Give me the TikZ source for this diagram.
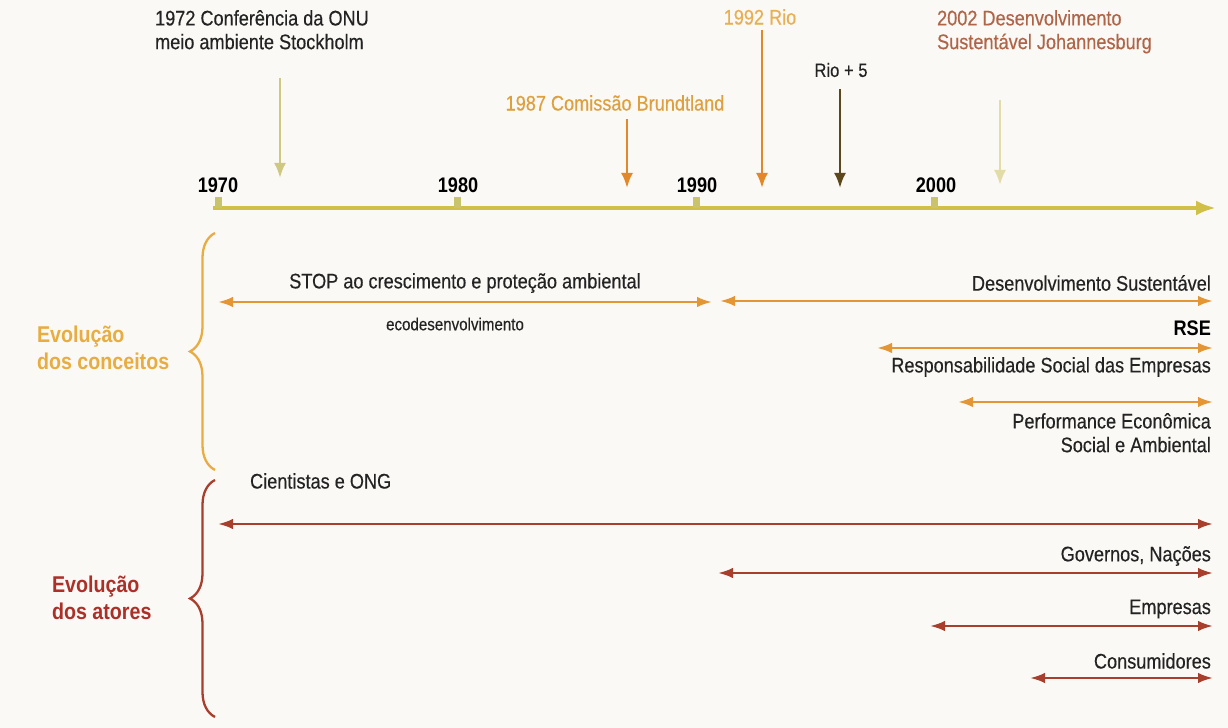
\documentclass[tikz,border=0pt]{standalone}
\usepackage{fontspec}
\setmainfont{Liberation Sans}[FakeStretch=0.86, UprightFeatures={FakeBold=0.35}]
\usetikzlibrary{arrows.meta,decorations.pathreplacing}

\definecolor{bgcol}{RGB}{251,249,245}
\definecolor{txtdark}{RGB}{35,35,35}
\definecolor{axiscol}{RGB}{208,192,72}
\definecolor{tickcol}{RGB}{200,196,110}
\definecolor{stockcol}{RGB}{206,200,128}
\definecolor{oracol}{RGB}{226,136,40}
\definecolor{bruntxt}{RGB}{222,160,62}
\definecolor{riotxt}{RGB}{232,176,84}
\definecolor{rio5col}{RGB}{92,72,26}
\definecolor{johtxt}{RGB}{176,100,72}
\definecolor{johcol}{RGB}{226,220,168}
\definecolor{conccol}{RGB}{228,150,52}
\definecolor{braccol}{RGB}{232,172,64}
\definecolor{atorcol}{RGB}{168,62,44}
\definecolor{atortxt}{RGB}{172,48,40}

\tikzset{
  every node/.style={font=\fontsize{12}{13.5}\selectfont, inner sep=1pt, text=txtdark},
  year/.style={font=\fontsize{12}{13}\selectfont\bfseries, anchor=south, text=black},
  evt/.style={line width=1.4pt, -{Latex[length=0.3cm,width=0.24cm]}},
  span/.style={line width=1.4pt, {Latex[length=0.3cm,width=0.21cm]}-{Latex[length=0.3cm,width=0.21cm]}},
  lbl/.style={anchor=east},
  grp/.style={font=\fontsize{13}{15}\selectfont\bfseries, align=left, anchor=west},
  brc/.style={line width=1.3pt, decorate, decoration={brace, amplitude=0.5cm}}
}

\begin{document}
\begin{tikzpicture}
    \fill[bgcol] (0,0) rectangle (24.56,14.56);
    \useasboundingbox (0,0) rectangle (24.56,14.56);

    \coordinate (ax0) at (4.26,10.40);
    \coordinate (ax1) at (24.32,10.40);
    \draw[axiscol, line width=2.6pt, -{Latex[length=0.4cm,width=0.3cm]}] (ax0) -- (ax1);
    \foreach \x in {4.36,9.14,13.92,18.68}
        \fill[tickcol] (\x-0.07,10.40) rectangle (\x+0.07,10.62);
    \node[year] (y70) at (4.36,10.66) {1970};
    \node[year] (y80) at (9.16,10.66) {1980};
    \node[year] (y90) at (13.94,10.66) {1990};
    \node[year] (y00) at (18.72,10.66) {2000};

    \node[anchor=north west, align=left] (stock) at (3.06,14.40) {1972 Conferência da ONU\\meio ambiente Stockholm};
    \coordinate (t72) at (5.60,13.00);
    \coordinate (b72) at (5.60,11.00);
    \draw[evt, stockcol] (t72) -- (b72);

    \node[text=bruntxt] (brun) at (12.30,12.50) {1987 Comissão Brundtland};
    \coordinate (b87) at (12.54,10.80);
    \draw[evt, oracol] ([yshift=-0.12cm]brun.south -| b87) -- (b87);

    \node[text=riotxt] (rio) at (15.20,14.22) {1992 Rio};
    \coordinate (b92) at (15.24,10.80);
    \draw[evt, oracol] ([yshift=-0.06cm]rio.south -| b92) -- (b92);

    \node[font=\fontsize{11}{12}\selectfont] (rio5) at (16.82,13.16) {Rio + 5};
    \coordinate (b97) at (16.80,10.80);
    \draw[evt, rio5col] ([yshift=-0.2cm]rio5.south -| b97) -- (b97);

    \node[anchor=north west, align=left, text=johtxt] (joh) at (18.70,14.40) {2002 Desenvolvimento\\Sustentável Johannesburg};
    \coordinate (t02) at (20.00,12.56);
    \coordinate (b02) at (20.00,10.86);
    \draw[evt, johcol] (t02) -- (b02);

    \node[grp, text=braccol] (conc) at (0.70,7.60) {Evolução\\dos conceitos};
    \coordinate (cb0) at (4.30,5.16);
    \coordinate (cb1) at (4.30,9.90);
    \draw[brc, braccol] (cb0) -- (cb1);

    \node (stop) at (9.30,8.90) {STOP ao crescimento e proteção ambiental};
    \coordinate (stop0) at (4.36,8.52);
    \coordinate (stop1) at (14.24,8.52);
    \draw[span, conccol] (stop0) -- (stop1);
    \node[font=\fontsize{10}{11}\selectfont] (eco) at (9.10,8.08) {ecodesenvolvimento};

    \node[lbl] (ds) at (24.26,8.90) {Desenvolvimento Sustentável};
    \coordinate (ds0) at (14.40,8.54);
    \coordinate (ds1) at (24.26,8.54);
    \draw[span, conccol] (ds0) -- (ds1);

    \node[lbl, font=\fontsize{12}{13}\selectfont\bfseries, text=black] (rse) at (24.26,8.00) {RSE};
    \coordinate (rse0) at (17.54,7.60);
    \coordinate (rse1) at (24.26,7.60);
    \draw[span, conccol] (rse0) -- (rse1);
    \node[lbl] (rsel) at (24.26,7.22) {Responsabilidade Social das Empresas};

    \coordinate (pf0) at (19.16,6.52);
    \coordinate (pf1) at (24.26,6.52);
    \draw[span, conccol] (pf0) -- (pf1);
    \node[anchor=north east, align=right] (perf) at (24.26,6.34) {Performance Econômica\\Social e Ambiental};

    \node[grp, text=atortxt] (ator) at (1.00,2.60) {Evolução\\dos atores};
    \coordinate (ab0) at (4.30,0.22);
    \coordinate (ab1) at (4.30,4.96);
    \draw[brc, atorcol] (ab0) -- (ab1);

    \node[anchor=west] (cient) at (4.96,4.94) {Cientistas e ONG};
    \coordinate (ci0) at (4.36,4.08);
    \coordinate (ci1) at (24.26,4.08);
    \draw[span, atorcol] (ci0) -- (ci1);

    \node[lbl] (gov) at (24.26,3.44) {Governos, Nações};
    \coordinate (gv0) at (14.36,3.10);
    \coordinate (gv1) at (24.26,3.10);
    \draw[span, atorcol] (gv0) -- (gv1);

    \node[lbl] (emp) at (24.26,2.38) {Empresas};
    \coordinate (em0) at (18.60,2.04);
    \coordinate (em1) at (24.26,2.04);
    \draw[span, atorcol] (em0) -- (em1);

    \node[lbl] (cons) at (24.26,1.34) {Consumidores};
    \coordinate (co0) at (20.60,1.00);
    \coordinate (co1) at (24.26,1.00);
    \draw[span, atorcol] (co0) -- (co1);
\end{tikzpicture}
\end{document}
